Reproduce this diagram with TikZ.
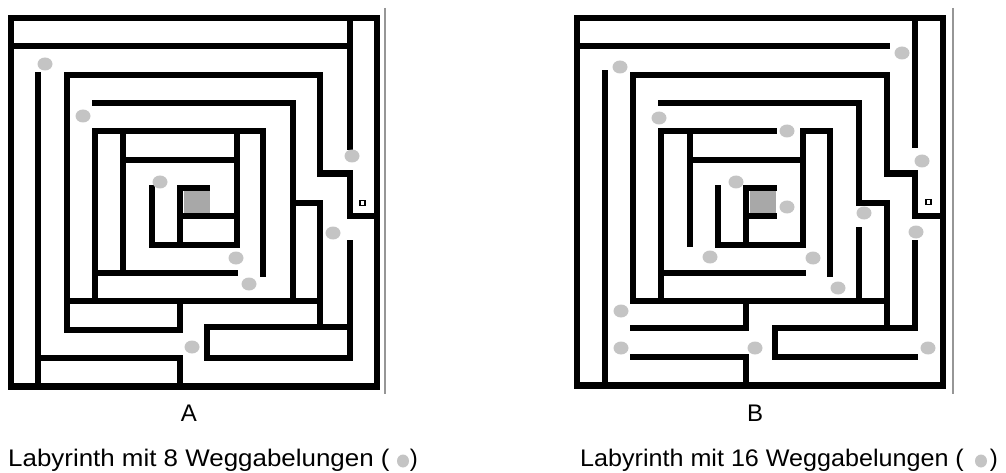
\documentclass[tikz,border=0pt]{standalone}
\usepackage{fontspec}
\setmainfont{Liberation Sans}
\definecolor{dotgray}{RGB}{196,196,196}
\definecolor{goalgray}{RGB}{168,168,168}
\definecolor{rulegray}{RGB}{150,150,150}
\begin{document}
\begin{tikzpicture}[x=1pt,y=-1pt,
  wall/.style={line width=6.5pt,line cap=rect,line join=miter},
  fork/.style={fill=dotgray},
  goal/.style={fill=goalgray},
  marker/.style={draw=black,line width=1.2pt,fill=white},
  edge rule/.style={draw=rulegray,line width=1.2pt},
  lbl/.style={font=\fontsize{24}{28}\selectfont,inner sep=0pt}]
\useasboundingbox (0,0) rectangle (1006,473);

% ---------------- Maze A ----------------
\fill[goal] (183.5,191.5) rectangle (210,212.5);
\draw[wall] (11,18) rectangle (377,386.5);
\draw[wall] (11,46) -- (350,46);
\draw[wall] (350,18) -- (350,147);
\draw[wall] (38,75) -- (38,386.5);
\draw[wall] (67,330) -- (67,75) -- (320,75) -- (320,173.5) -- (350,173.5) -- (350,216) -- (377,216);
\draw[wall] (95,103) -- (293,103) -- (293,301);
\draw[wall] (95,301) -- (95,131) -- (263,131) -- (263,273.5);
\draw[wall] (67,301) -- (320,301);
\draw[wall] (123,131) -- (123,273);
\draw[wall] (123,160) -- (237,160);
\draw[wall] (95,273) -- (235,273);
\draw[wall] (237,131) -- (237,245) -- (152,245) -- (152,188.3);
\draw[wall] (207,188) -- (180,188) -- (180,245);
\draw[wall] (180,216) -- (237,216);
\draw[wall] (67,330) -- (180,330) -- (180,301);
\draw[wall] (38,358) -- (180,358) -- (180,386.5);
\draw[wall] (350,243) -- (350,358) -- (207,358) -- (207,327) -- (350,327);
\draw[wall] (293,203) -- (320,203) -- (320,327);
\draw[marker] (360,200.5) rectangle (365,205.5);
\draw[edge rule] (385,8) -- (385,394);

\foreach \p in {(45,64),(83,116),(160,182),(352,156),(333,233),(236,258),(249,284),(192,347)}
  \fill[fork] \p ellipse [x radius=7.5pt,y radius=6.5pt];

% ---------------- Maze B ----------------
\fill[goal] (749.5,191.5) rectangle (776,212.5);
\draw[wall] (577,18) rectangle (943,385.5);
\draw[wall] (577,46) -- (887,46);
\draw[wall] (915,18) -- (915,145);
\draw[wall] (605,73) -- (605,385.5);
\draw[wall] (633,301) -- (633,75) -- (887,75) -- (887,173.5) -- (915,173.5) -- (915,216) -- (943,216);
\draw[wall] (661,103) -- (859,103) -- (859,203) -- (887,203) -- (887,328);
\draw[wall] (859,230) -- (859,301);
\draw[wall] (661,301) -- (661,131) -- (774,131);
\draw[wall] (718,188) -- (718,245) -- (803,245) -- (803,131) -- (830,131) -- (830,273.5);
\draw[wall] (633,301) -- (887,301);
\draw[wall] (690,131) -- (690,243.5);
\draw[wall] (690,160) -- (803,160);
\draw[wall] (661,273) -- (803,273);
\draw[wall] (774,188) -- (746,188) -- (746,245);
\draw[wall] (746,216) -- (774,216);
\draw[wall] (633.4,328) -- (746,328) -- (746,301);
\draw[wall] (633.4,357) -- (746,357) -- (746,385.5);
\draw[wall] (915,243) -- (915,328) -- (775,328) -- (775,357) -- (915,357);
\draw[marker] (926,199.5) rectangle (931,204.5);
\draw[edge rule] (953,8) -- (953,394);

\foreach \p in {(620,67),(659,118),(736,182),(787,131),(902,53),(922,161),(787,207),(864,213),(916,232),(710,257),(813,258),(838,288),(621,311),(621,348),(755,348),(928,348)}
  \fill[fork] \p ellipse [x radius=7.5pt,y radius=6.5pt];

% ---------------- Labels ----------------
\node[lbl,anchor=base] (labA) at (189,421) {A};
\node[lbl,anchor=base] (labB) at (755,421) {B};
\node[lbl,anchor=base west] (capA) at (8,466) {\scalebox{1.08}[1]{Labyrinth mit 8 Weggabelungen (}};
\node[lbl,anchor=base east] (capAend) at (418,466) {)};
\fill[fork] (403,461) ellipse [x radius=6pt,y radius=6.5pt];
\node[lbl,anchor=base west] (capB) at (580,466) {\scalebox{1.047}[1]{Labyrinth mit 16 Weggabelungen (}};
\node[lbl,anchor=base east] (capBend) at (998,466) {)};
\fill[fork] (981,461) ellipse [x radius=6pt,y radius=6.5pt];
\end{tikzpicture}
\end{document}
